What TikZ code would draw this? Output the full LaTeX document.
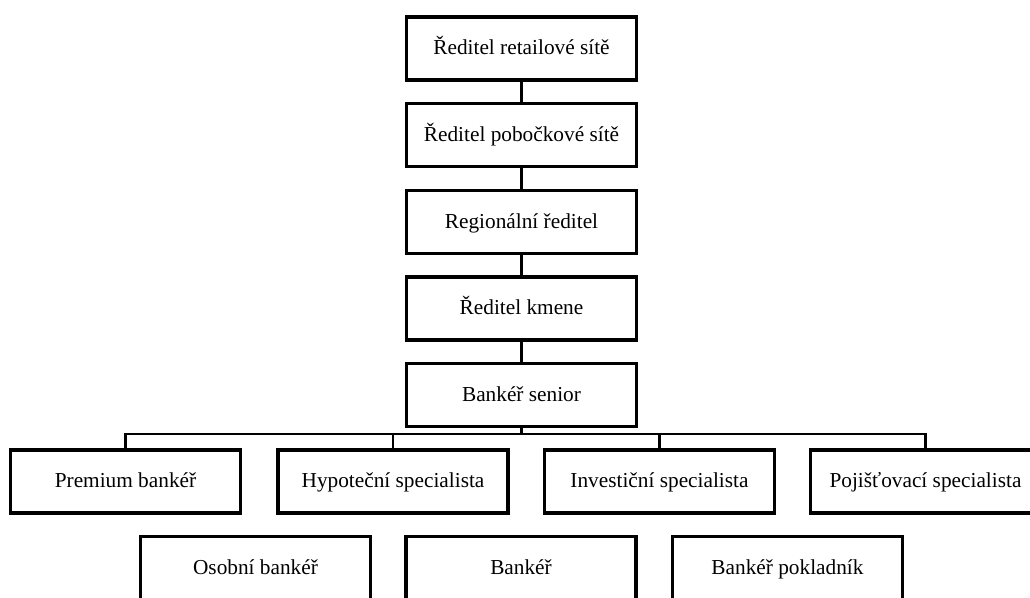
\documentclass[tikz,border=0pt]{standalone}
\usepackage{fontspec}
\setmainfont{Liberation Serif}
\begin{document}
\begin{tikzpicture}[x=1pt,y=-1pt,
  box/.style={draw=black, line width=3.2pt, fill=white, minimum width=230pt, minimum height=63pt, inner sep=0pt, text height=15pt, text depth=3pt, font=\fontsize{21.3pt}{24pt}\selectfont},
  conn/.style={draw=black, line width=2.8pt}]
\fill[white] (0,0) rectangle (1030,597);
\clip (0,0) rectangle (1030,597);
\node[box] (r1) at (521.5,48.5) {Ředitel retailové sítě};
\node[box] (r2) at (521.5,135) {Ředitel pobočkové sítě};
\node[box] (r3) at (521.5,222) {Regionální ředitel};
\node[box] (r4) at (521.5,308.5) {Ředitel kmene};
\node[box] (r5) at (521.5,395) {Bankéř senior};
\node[box] (premium) at (125.5,481.5) {Premium bankéř};
\node[box] (hypo) at (393,481.5) {Hypoteční specialista};
\node[box] (inv) at (659.5,481.5) {Investiční specialista};
\node[box] (poj) at (925.5,481.5) {Pojišťovací specialista};
\node[box] (osob) at (255.5,568) {Osobní bankéř};
\node[box] (bank) at (521,568) {Bankéř};
\node[box] (pokl) at (787.5,568) {Bankéř pokladník};
\draw[conn] (r1.south) -- (r2.north);
\draw[conn] (r2.south) -- (r3.north);
\draw[conn] (r3.south) -- (r4.north);
\draw[conn] (r4.south) -- (r5.north);
\coordinate (bar) at (521.5,434);
\draw[conn] (r5.south) -- (bar);
\draw[conn] (premium.north) |- (bar) -| (poj.north);
\draw[conn] (hypo.north) -- (hypo.north |- bar);
\draw[conn] (inv.north) -- (inv.north |- bar);
\end{tikzpicture}
\end{document}
